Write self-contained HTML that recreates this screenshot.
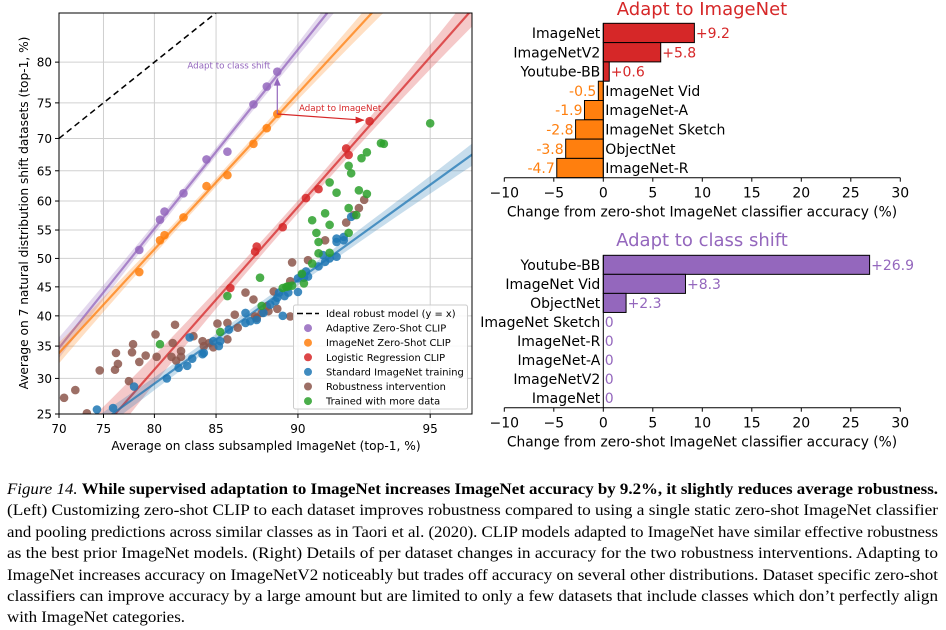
<!DOCTYPE html>
<html><head><meta charset="utf-8"><style>
html,body{margin:0;padding:0;background:#fff;}
svg{display:block;font-family:"DejaVu Sans","Liberation Sans",sans-serif;}
.cap{font-family:"Liberation Serif",serif;font-size:16px;fill:#000;}
</style></head><body>
<svg id="fig" width="946" height="630" viewBox="0 0 946 630" xmlns="http://www.w3.org/2000/svg">
<defs><clipPath id="plotclip"><rect x="59" y="13" width="413" height="401"/></clipPath></defs>
<g id="left"></g>
<g id="top"></g>
<g id="bot"></g>
<g>
<text class="cap" x="7" y="494" textLength="931" lengthAdjust="spacingAndGlyphs"><tspan font-style="italic">Figure 14.</tspan> <tspan font-weight="bold">While supervised adaptation to ImageNet increases ImageNet accuracy by 9.2%, it slightly reduces average robustness.</tspan></text>
<text class="cap" x="7" y="515" textLength="931" lengthAdjust="spacingAndGlyphs">(Left) Customizing zero-shot CLIP to each dataset improves robustness compared to using a single static zero-shot ImageNet classifier</text>
<text class="cap" x="7" y="537" textLength="931" lengthAdjust="spacingAndGlyphs">and pooling predictions across similar classes as in Taori et al. (2020). CLIP models adapted to ImageNet have similar effective robustness</text>
<text class="cap" x="7" y="558" textLength="931" lengthAdjust="spacingAndGlyphs">as the best prior ImageNet models. (Right) Details of per dataset changes in accuracy for the two robustness interventions. Adapting to</text>
<text class="cap" x="7" y="580" textLength="931" lengthAdjust="spacingAndGlyphs">ImageNet increases accuracy on ImageNetV2 noticeably but trades off accuracy on several other distributions. Dataset specific zero-shot</text>
<text class="cap" x="7" y="601" textLength="931" lengthAdjust="spacingAndGlyphs">classifiers can improve accuracy by a large amount but are limited to only a few datasets that include classes which don’t perfectly align</text>
<text class="cap" x="7" y="622" textLength="178" lengthAdjust="spacingAndGlyphs">with ImageNet categories.</text>
</g>
</svg>
<script>
// ---- scatter data (x = class subsampled ImageNet %, y = avg shift %) ----
const adaptiveX=[78.6,80.5,80.9,82.5,84.3,85.8,87.5,88.3,88.9];
const adaptiveY=[51.5,56.8,58.2,61.3,66.8,68.0,74.8,77.1,78.9];
const zeroShotX=[78.6,80.5,80.9,82.5,84.3,85.8,87.5,88.3,88.9];
const zeroShotY=[47.6,53.2,54.1,57.2,62.5,64.3,69.2,71.5,73.5];
const logregX=[86.0,87.6,87.7,89.2,90.4,91.0,92.2,92.3,93.1];
const logregY=[44.8,51.2,52.1,55.5,60.5,62.0,68.5,67.5,72.5];
const standardX=[74.3,76.0,78.1,81.1,82.1,82.8,83.0,83.2,84.0,84.1,84.8,85.2,85.3,85.9,87.0,87.0,87.3,87.7,88.1,88.5,88.8,88.9,89.0,89.2,89.3,89.5,90.0,90.0,90.2,90.3,90.4,90.5,91.0,91.2,91.3,91.5,91.8,91.8,91.8,92.1,92.1,92.4];
const standardY=[25.6,25.8,28.8,30.0,31.6,31.9,36.4,33.0,33.7,33.9,35.8,35.0,35.8,37.7,40.5,38.8,39.1,39.3,40.5,41.9,42.5,43.1,44.0,40.0,43.4,44.0,44.1,46.5,47.1,46.6,47.7,46.8,48.6,50.6,49.4,50.0,53.5,50.3,52.9,53.8,53.2,57.3];
const robustX=[70.6,71.9,73.2,74.6,76.2,76.3,76.5,77.6,77.9,78.0,78.6,79.2,80.1,80.2,81.5,81.8,81.6,81.9,82.3,82.3,83.3,84.0,84.1,84.5,84.8,85.1,85.8,85.8,86.3,86.5,87.0,87.5,87.6,87.7,88.0,88.3,88.4,88.7,88.9,89.6,89.6,89.7,90.5,91.3,92.2,92.5,92.7,92.9];
const robustY=[27.2,28.3,25.1,31.2,31.3,33.9,32.2,29.6,34.0,35.3,32.5,33.5,36.9,33.3,33.3,38.5,35.5,32.7,34.2,33.3,36.6,35.8,35.0,35.5,34.8,38.7,38.8,36.1,40.2,38.0,44.0,42.8,39.9,39.6,40.5,41.6,40.8,44.2,41.2,39.9,46.0,49.3,49.7,53.2,56.3,57.6,58.8,60.2];
const moreDataX=[80.5,85.3,85.8,87.9,88.0,89.2,89.4,89.5,89.7,90.2,90.3,90.7,90.7,90.9,91.0,91.0,91.3,91.5,91.5,91.5,91.8,92.3,92.3,92.3,92.4,92.6,92.7,92.8,93.0,93.0,93.5,93.6,95.0];
const moreDataY=[35.3,37.3,43.4,46.6,41.7,44.8,45.0,45.1,45.2,47.3,45.6,49.1,56.7,54.5,52.9,50.9,57.9,51.0,55.9,63.1,61.4,54.5,58.8,65.8,64.6,57.6,61.8,67.0,61.2,67.9,69.3,69.2,72.2];
const xTicks=[70,75,80,85,90,95];
const yTicks=[25,30,35,40,45,50,55,60,65,70,75,80];
// ---- bar data ----
const topNames=["ImageNet","ImageNetV2","Youtube-BB","ImageNet Vid","ImageNet-A","ImageNet Sketch","ObjectNet","ImageNet-R"];
const topValues=[9.2,5.8,0.6,-0.5,-1.9,-2.8,-3.8,-4.7];
const botNames=["Youtube-BB","ImageNet Vid","ObjectNet","ImageNet Sketch","ImageNet-R","ImageNet-A","ImageNetV2","ImageNet"];
const botValues=[26.9,8.3,2.3,0,0,0,0,0];
const barTicks=[-10,-5,0,5,10,15,20,25,30];

const NS="http://www.w3.org/2000/svg";
function mk(parent,tag,attrs,txt){const e=document.createElementNS(NS,tag);for(const k in attrs)e.setAttribute(k,attrs[k]);if(txt!==undefined)e.textContent=txt;parent.appendChild(e);return e;}
const lg=p=>Math.log(p/(100-p));
const L0=lg(70), B0=lg(25);
const sx=p=>59+177*(lg(p)-L0);
const sy=p=>414-141.6*(lg(p)-B0);
const lxToPx=l=>59+177*(l-L0);
const lyToPx=l=>414-141.6*(l-B0);

const left=document.getElementById('left');
xTicks.forEach(t=>{const g=mk(left,'line',{x1:sx(t),x2:sx(t),y1:13,y2:414,stroke:'#d0d0d0','stroke-width':1});

});
yTicks.forEach(t=>{const g=mk(left,'line',{x1:59,x2:472,y1:sy(t),y2:sy(t),stroke:'#d0d0d0','stroke-width':1});

});
const pg=mk(left,'g',{'clip-path':'url(#plotclip)'});


const ideal=mk(pg,'line',{x1:sx(70),y1:sy(70),x2:sx(85),y2:sy(85),stroke:'#000','stroke-width':1.5,'stroke-dasharray':'6,4'});



function fitLine(xs,ys,color,name,k,base){
  const lx=xs.map(lg), ly=ys.map(lg); const n=lx.length;
  const mx=lx.reduce((a,b)=>a+b)/n, my=ly.reduce((a,b)=>a+b)/n;
  let sxy=0,sxx=0; for(let i=0;i<n;i++){sxy+=(lx[i]-mx)*(ly[i]-my);sxx+=(lx[i]-mx)**2;}
  const b=sxy/sxx, a=my-b*mx;
  const up=[],dn=[];
  for(let l=L0-0.05;l<=3.3;l+=0.05){const y=a+b*l;const w=base+k*(l-mx)**2;up.push(lxToPx(l)+','+lyToPx(y+w));dn.unshift(lxToPx(l)+','+lyToPx(y-w));}
  const band=mk(pg,'polygon',{points:up.concat(dn).join(' '),fill:color,opacity:0.25});
  
  
  const ln=mk(pg,'line',{x1:lxToPx(L0-0.05),y1:lyToPx(a+b*(L0-0.05)),x2:lxToPx(3.3),y2:lyToPx(a+b*3.3),stroke:color,'stroke-width':2.2,opacity:0.75});
  
  
}
fitLine(adaptiveX,adaptiveY,'#9467bd','adaptive-zero-shot',0.06,0.03);
fitLine(zeroShotX,zeroShotY,'#ff7f0e','imagenet-zero-shot',0.06,0.03);
fitLine(logregX,logregY,'#d62728','logistic-regression',0.08,0.045);
fitLine(standardX,standardY,'#1f77b4','standard-training',0.03,0.035);

function pts(xs,ys,color,name){
  xs.forEach((x,i)=>{const c=mk(pg,'circle',{cx:sx(x),cy:sy(ys[i]),r:4.3,fill:color,opacity:0.85});
  
  });
}
pts(robustX,robustY,'#8c564b','robustness-intervention');
pts(standardX,standardY,'#1f77b4','standard-imagenet');
pts(moreDataX,moreDataY,'#2ca02c','more-data');
pts(logregX,logregY,'#d62728','logistic-regression');
pts(zeroShotX,zeroShotY,'#ff7f0e','imagenet-zero-shot');
pts(adaptiveX,adaptiveY,'#9467bd','adaptive-zero-shot');

const zi=zeroShotX.length-1, ai=adaptiveX.length-1, ri=logregX.length-1;
const ox=sx(zeroShotX[zi]), oy=sy(zeroShotY[zi]);
const a1=mk(left,'line',{x1:ox,y1:oy,x2:ox,y2:sy(adaptiveY[ai])+10,stroke:'#9467bd','stroke-width':1.2});


const h1=mk(left,'polygon',{points:`${ox-3.5},${sy(adaptiveY[ai])+14} ${ox+3.5},${sy(adaptiveY[ai])+14} ${ox},${sy(adaptiveY[ai])+6}`,fill:'#9467bd'});


const t1=mk(left,'text',{x:ox-7,y:sy(adaptiveY[ai])-3,'font-size':8.7,fill:'#9467bd','text-anchor':'end'},'Adapt to class shift');


const rx=sx(logregX[ri])-6, ry=sy(logregY[ri])-1;
const a2=mk(left,'line',{x1:ox,y1:oy,x2:rx,y2:ry,stroke:'#d62728','stroke-width':1.2});


const h2=mk(left,'polygon',{points:`${rx+1},${ry} ${rx-8},${ry-3.5} ${rx-8},${ry+3.5}`,fill:'#d62728'});


const t2=mk(left,'text',{x:299,y:111,'font-size':8.7,fill:'#d62728'},'Adapt to ImageNet');



const fr=mk(left,'rect',{x:59,y:13,width:413,height:401,fill:'none',stroke:'#000','stroke-width':1});


xTicks.forEach(t=>{const tl=mk(left,'text',{x:sx(t),y:433,'font-size':12,'text-anchor':'middle',fill:'#000'},String(t));


const tm=mk(left,'line',{x1:sx(t),x2:sx(t),y1:414,y2:418,stroke:'#000'});

});
yTicks.forEach(t=>{const tl=mk(left,'text',{x:52,y:sy(t)+4.5,'font-size':12,'text-anchor':'end',fill:'#000'},String(t));


const tm=mk(left,'line',{x1:55,x2:59,y1:sy(t),y2:sy(t),stroke:'#000'});

});
const xt=mk(left,'text',{x:266,y:450,'font-size':12.2,'text-anchor':'middle'},'Average on class subsampled ImageNet (top-1, %)');


const yt=mk(left,'text',{x:0,y:0,'font-size':12.2,'text-anchor':'middle',transform:'translate(28,213) rotate(-90)'},'Average on 7 natural distribution shift datasets (top-1, %)');



const leg=mk(left,'g',{});


mk(leg,'rect',{x:293.5,y:305,width:174,height:104,rx:2,fill:'#fff','fill-opacity':0.85,stroke:'#ccc'});
const legLabels=['Ideal robust model (y = x)','Adaptive Zero-Shot CLIP','ImageNet Zero-Shot CLIP','Logistic Regression CLIP','Standard ImageNet training','Robustness intervention','Trained with more data'];
const legColors=['#000','#9467bd','#ff7f0e','#d62728','#1f77b4','#8c564b','#2ca02c'];
legLabels.forEach((l,i)=>{const y=313.5+i*14.6;
  if(i===0){const m=mk(leg,'line',{x1:297,x2:319,y1:y,y2:y,stroke:'#000','stroke-width':1.5,'stroke-dasharray':'6,3'});
  
  }
  else{const m=mk(leg,'circle',{cx:308,cy:y,r:4,fill:legColors[i],opacity:0.85});
  
  }
  const t=mk(leg,'text',{x:326,y:y+3.5,'font-size':9.9},l);
  
  
});

function bars(gid,names,vals,top0,rowH,axisY,title,titleY,titleColor,posColor,negColor){
  const g=document.getElementById(gid);
  const X=v=>603.3+9.9*v;
  const tt=mk(g,'text',{x:702,y:titleY,'font-size':18,'text-anchor':'middle',fill:titleColor},title);
  
  
  names.forEach((n,i)=>{const v=vals[i]; const y=top0+i*rowH; const c=v>=0?posColor:negColor;
    if(v!==0){const r=mk(g,'rect',{x:Math.min(X(0),X(v)),y:y,width:Math.abs(X(v)-X(0)),height:rowH,fill:c,stroke:'#000','stroke-width':1});
    
    }
    const cy=y+rowH/2+5;
    const lbl=v>0?'+'+v:(v<0?'-'+Math.abs(v):'0');
    if(v<0){
      const nt=mk(g,'text',{x:X(0)+2,y:cy,'font-size':14},n);
      
      
      const vt=mk(g,'text',{x:X(v)-2,y:cy,'font-size':14,'text-anchor':'end',fill:c},lbl);
      
      
    } else {
      const nt=mk(g,'text',{x:X(0)-3,y:cy,'font-size':14,'text-anchor':'end'},n);
      
      
      const vt=mk(g,'text',{x:X(v)+1.5,y:cy,'font-size':14,fill:c},lbl);
      
      
    }
  });
  const sp=mk(g,'line',{x1:X(0),x2:X(0),y1:top0,y2:axisY,stroke:'#000','stroke-width':1});
  
  
  const ax=mk(g,'line',{x1:X(-10),x2:X(30),y1:axisY,y2:axisY,stroke:'#000','stroke-width':1});
  
  
  barTicks.forEach(t=>{const tm=mk(g,'line',{x1:X(t),x2:X(t),y1:axisY,y2:axisY+4,stroke:'#000'});
    
    
    const tl=mk(g,'text',{x:X(t),y:axisY+20,'font-size':14,'text-anchor':'middle'},t<0?'\u2212'+Math.abs(t):String(t));
    
    });
  const xl=mk(g,'text',{x:702,y:axisY+39,'font-size':13.8,'text-anchor':'middle'},'Change from zero-shot ImageNet classifier accuracy (%)');
  
  
}
bars('top',topNames,topValues,23.3,19.3,177.7,'Adapt to ImageNet',15,'#d62728','#d62728','#ff7f0e');
bars('bot',botNames,botValues,255.3,19.05,407.7,'Adapt to class shift',246,'#9467bd','#9467bd','#9467bd');
</script>
</body></html>
